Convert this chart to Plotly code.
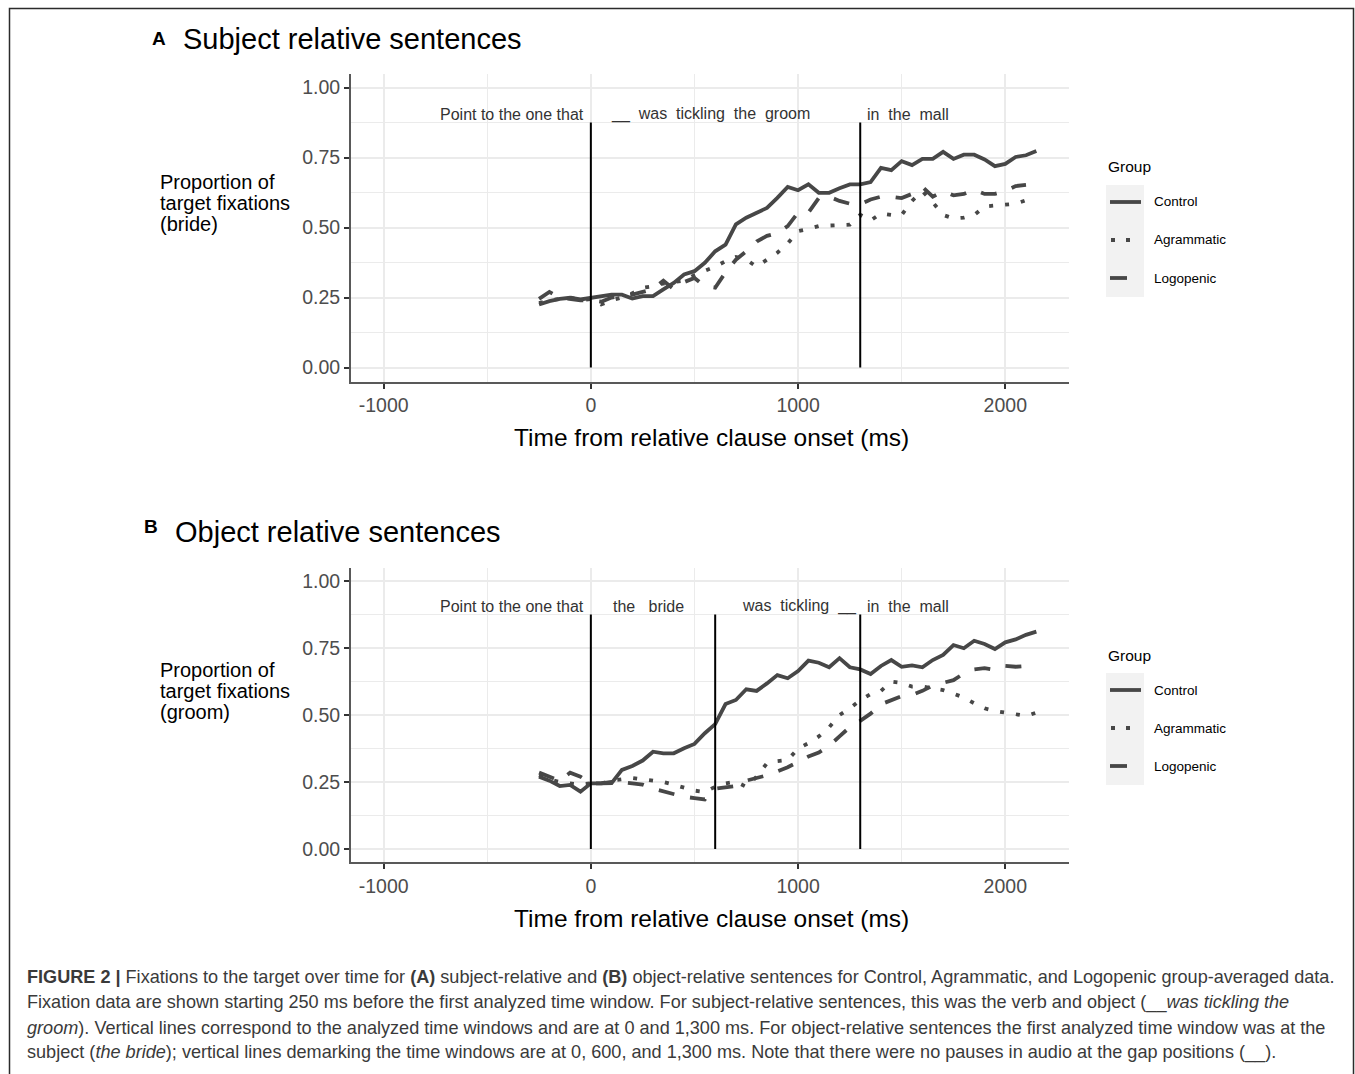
import plotly.graph_objects as go

# ---------------- data ----------------
time_ms = list(range(-250, 2151, 50))
groups = ["Control", "Agrammatic", "Logopenic"]

subj_control = [0.225, 0.237, 0.245, 0.249, 0.243, 0.249,
                0.255, 0.26, 0.26, 0.246, 0.255, 0.255, 0.279, 0.302, 0.332, 0.344,
                0.374, 0.415, 0.439, 0.511, 0.535, 0.552, 0.57, 0.606, 0.645, 0.633,
                0.654, 0.624, 0.624, 0.64, 0.654, 0.654, 0.662, 0.713, 0.705, 0.737,
                0.723, 0.745, 0.745, 0.77, 0.745, 0.76, 0.76, 0.743, 0.719, 0.727,
                0.752, 0.758, 0.773]
subj_agrammatic = [0.23, 0.24, 0.245, 0.25, 0.24, 0.245,
                   0.225, 0.24, 0.25, 0.265, 0.285, 0.29, 0.3, 0.305, 0.31, 0.33,
                   0.345, 0.36, 0.38, 0.395, 0.385, 0.36, 0.385, 0.41, 0.443, 0.487,
                   0.495, 0.505, 0.507, 0.508, 0.51, 0.545, 0.525, 0.55, 0.545, 0.545,
                   0.595, 0.63, 0.59, 0.545, 0.532, 0.535, 0.545, 0.575, 0.578, 0.58,
                   0.585, 0.597, 0.6]
subj_logopenic = [0.245, 0.27, 0.25, 0.245, 0.24, 0.24,
                  0.235, 0.25, 0.255, 0.26, 0.27, 0.28, 0.31, 0.28, 0.305, 0.32,
                  0.29, 0.285, 0.34, 0.385, 0.415, 0.45, 0.47, 0.48, 0.505, 0.553,
                  0.553, 0.605, 0.61, 0.595, 0.585, 0.583, 0.6, 0.61, 0.61, 0.605,
                  0.62, 0.645, 0.61, 0.63, 0.615, 0.62, 0.635, 0.62, 0.62, 0.63,
                  0.648, 0.652, None]

obj_control = [0.27, 0.255, 0.235, 0.239, 0.214, 0.245,
               0.245, 0.246, 0.295, 0.31, 0.33, 0.363, 0.357, 0.357, 0.376, 0.392,
               0.432, 0.466, 0.541, 0.556, 0.596, 0.59, 0.618, 0.649, 0.637, 0.664,
               0.703, 0.695, 0.678, 0.712, 0.678, 0.67, 0.653, 0.683, 0.705, 0.68,
               0.685, 0.678, 0.705, 0.724, 0.761, 0.749, 0.777, 0.765, 0.746, 0.771,
               0.782, 0.799, 0.811]
obj_agrammatic = [0.275, 0.26, 0.25, 0.245, 0.24, 0.245,
                  0.245, 0.255, 0.26, 0.265, 0.26, 0.255, 0.25, 0.24, 0.228, 0.218,
                  0.213, 0.232, 0.245, 0.251, 0.232, 0.27, 0.32, 0.328, 0.332, 0.375,
                  0.395, 0.42, 0.454, 0.5, 0.525, 0.555, 0.578, 0.59, 0.625, 0.62,
                  0.606, 0.606, 0.6, 0.593, 0.58, 0.565, 0.544, 0.525, 0.515, 0.51,
                  0.503, 0.496, 0.509]
obj_logopenic = [0.285, 0.27, 0.255, 0.285, 0.27, 0.245,
                 0.245, 0.25, 0.25, 0.245, 0.24, 0.225, 0.215, 0.205, 0.195, 0.19,
                 0.185, 0.225, 0.23, 0.235, 0.255, 0.265, 0.275, 0.29, 0.305, 0.325,
                 0.345, 0.36, 0.385, 0.42, 0.455, 0.478, 0.505, 0.54, 0.555, 0.57,
                 0.575, 0.59, 0.61, 0.62, 0.63, 0.655, 0.67, 0.675, 0.668, 0.683,
                 0.68, 0.683, 0.683]

subj_windows = [0, 1300]
obj_windows = [0, 600, 1300]
x_ticks = [-1000, 0, 1000, 2000]
y_ticks = [0.0, 0.25, 0.5, 0.75, 1.0]

# ---------------- layout helpers ----------------
W, H = 1355, 1074
def fx(p): return p / W
def fy(p): return 1 - p / H

LINE_COL = "#474747"
styles = {"Control": "solid", "Agrammatic": "4px,12px", "Logopenic": "16px,16px"}

fig = go.Figure()
panels = [("x", "y", [subj_control, subj_agrammatic, subj_logopenic]),
          ("x2", "y2", [obj_control, obj_agrammatic, obj_logopenic])]
for xa, ya, series in panels:
    for g, vals in zip(groups, series):
        fig.add_trace(go.Scatter(x=time_ms, y=vals, mode="lines", name=g,
                                 xaxis=xa, yaxis=ya, showlegend=False,
                                 connectgaps=False,
                                 line=dict(color=LINE_COL, width=3.8, dash=styles[g])))

grid_col = "#ebebeb"
def xax(anchor, dom_y):
    return dict(domain=[fx(351), fx(1069)], range=[-1157.5, 2307.5], anchor=anchor,
                tickmode="array", tickvals=x_ticks, ticktext=[str(v) for v in x_ticks],
                showgrid=True, gridcolor=grid_col, gridwidth=1.6,
                minor=dict(showgrid=True, gridcolor=grid_col, gridwidth=1.2,
                           tickmode="array", tickvals=[-500, 500, 1500]),
                showline=True, linecolor="#595959", linewidth=2,
                ticks="outside", ticklen=5, tickwidth=2, tickcolor="#333333",
                tickfont=dict(family="Liberation Sans, Arial", size=19.5, color="#4d4d4d"),
                zeroline=False, fixedrange=True)
def yax(anchor, dom):
    return dict(domain=dom, range=[-0.05, 1.05], anchor=anchor,
                tickmode="array", tickvals=y_ticks, ticktext=["%.2f" % v for v in y_ticks],
                showgrid=True, gridcolor=grid_col, gridwidth=1.6,
                minor=dict(showgrid=True, gridcolor=grid_col, gridwidth=1.2,
                           tickmode="array", tickvals=[0.125, 0.375, 0.625, 0.875]),
                showline=True, linecolor="#595959", linewidth=2,
                ticks="outside", ticklen=5, tickwidth=2, tickcolor="#333333",
                tickfont=dict(family="Liberation Sans, Arial", size=19.5, color="#4d4d4d"),
                zeroline=False, fixedrange=True)

domA = [fy(381.5), fy(73.5)]
domB = [fy(862.4), fy(567.6)]

shapes = []
annotations = []
FONT = "Liberation Sans, Arial, sans-serif"

# frame
shapes.append(dict(type="rect", xref="paper", yref="paper",
                   x0=fx(9.5), x1=fx(1353.5), y0=fy(1085), y1=fy(8.5),
                   line=dict(color="#2b2b2b", width=1.5), layer="below"))

# window lines
for xa, ya, wins in [("x", "y", subj_windows), ("x2", "y2", obj_windows)]:
    for w in wins:
        shapes.append(dict(type="line", xref=xa, yref=ya, x0=w, x1=w, y0=0, y1=0.875,
                           line=dict(color="black", width=2)))

NB = "\u00a0"
def sp(s):
    return s.replace(" ", NB)

# in-plot sentence annotations
word_col = "#333333"
def word(xa, ya, x, text, anchor):
    annotations.append(dict(xref=xa, yref=ya, x=x, y=0.905, text=sp(text), showarrow=False,
                            xanchor=anchor, yanchor="middle",
                            font=dict(family=FONT, size=16, color=word_col)))
word("x", "y", -22, "Point to the one that", "right")
word("x", "y", 88, "__  was  tickling  the  groom", "left")
word("x", "y", 1322, "in  the  mall", "left")
word("x2", "y2", -22, "Point to the one that", "right")
word("x2", "y2", 98, "the   bride", "left")
word("x2", "y2", 718, "was  tickling  __", "left")
word("x2", "y2", 1322, "in  the  mall", "left")

def text_px(x, y, t, size, color="black", anchor="left"):
    annotations.append(dict(xref="paper", yref="paper", x=fx(x), y=fy(y), text=t,
                            showarrow=False, xanchor=anchor, yanchor="middle",
                            font=dict(family=FONT, size=size, color=color)))

# panel titles
text_px(150, 38, "<b>A</b>", 19)
text_px(181, 39, "Subject relative sentences", 29)
text_px(142, 526, "<b>B</b>", 19)
text_px(173, 532, "Object relative sentences", 29)

# y axis labels
for i, line in enumerate(["Proportion of", "target fixations", "(bride)"]):
    text_px(158, 182 + 21 * i, line, 20)
for i, line in enumerate(["Proportion of", "target fixations", "(groom)"]):
    text_px(158, 670 + 21 * i, line, 20)

# x axis titles
text_px(711, 437, "Time from relative clause onset (ms)", 24.5, anchor="center")
text_px(711, 918, "Time from relative clause onset (ms)", 24.5, anchor="center")

# legends
for top in (167, 655):
    text_px(1106, top, "Group", 15.5)
    shapes.append(dict(type="rect", xref="paper", yref="paper",
                       x0=fx(1106), x1=fx(1144), y0=fy(top + 130), y1=fy(top + 18),
                       fillcolor="#f2f2f2", line=dict(width=0), layer="below"))
    keys = [("Control", 1110, 1141, "solid"), ("Agrammatic", 1111, 1135, "4px,11px"),
            ("Logopenic", 1110, 1127, "solid")]
    for j, (g, x0, x1, d) in enumerate(keys):
        yy = top + 35 + 38 * j
        shapes.append(dict(type="line", xref="paper", yref="paper",
                           x0=fx(x0), x1=fx(x1), y0=fy(yy), y1=fy(yy),
                           line=dict(color=LINE_COL, width=3.8, dash=d)))
        text_px(1152, yy, g, 13.5)

# caption
cap_col = "#3a3a3a"
cap = [
    "<b>FIGURE 2 | </b>Fixations to the target over time for <b>(A)</b> subject-relative and <b>(B)</b> object-relative sentences for Control, Agrammatic, and Logopenic group-averaged data.",
    "Fixation data are shown starting 250 ms before the first analyzed time window. For subject-relative sentences, this was the verb and object (__<i>was tickling the</i>",
    "<i>groom</i>). Vertical lines correspond to the analyzed time windows and are at 0 and 1,300 ms. For object-relative sentences the first analyzed time window was at the",
    "subject (<i>the bride</i>); vertical lines demarking the time windows are at 0, 600, and 1,300 ms. Note that there were no pauses in audio at the gap positions (__).",
]
for i, line in enumerate(cap):
    text_px(25, 977 + 25.3 * i, line, 18.1, color=cap_col)

fig.update_layout(
    width=W, height=H, margin=dict(l=0, r=0, t=0, b=0),
    paper_bgcolor="white", plot_bgcolor="white",
    xaxis=xax("y", domA), yaxis=yax("x", domA),
    xaxis2=xax("y2", domB), yaxis2=yax("x2", domB),
    shapes=shapes, annotations=annotations, showlegend=False,
    font=dict(family=FONT),
)

fig.write_html("out.html", config={"displayModeBar": False},
               post_script="document.body.style.margin='0px';")
